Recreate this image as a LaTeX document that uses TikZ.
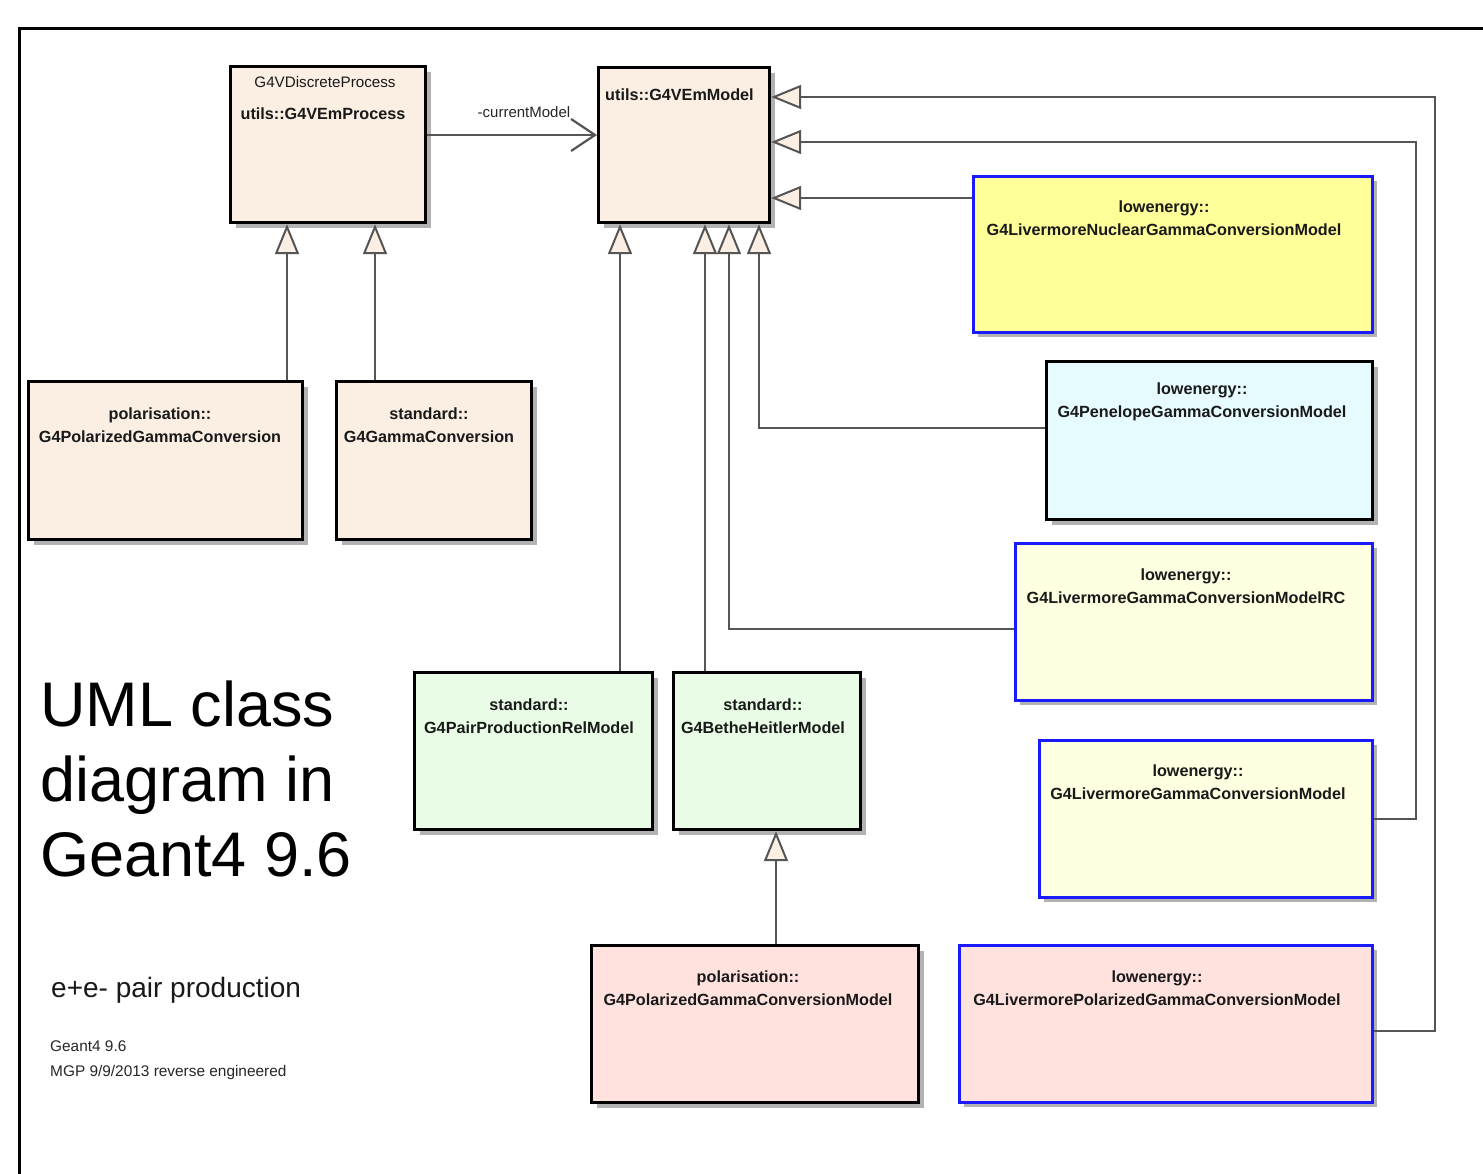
\documentclass[tikz,border=0pt]{standalone}
\usepackage{fontspec}
\setmainfont{Liberation Sans}
\usetikzlibrary{arrows.meta,shadows,calc}
\definecolor{cream}{HTML}{FAEFE2}
\definecolor{mint}{HTML}{E8FCE6}
\definecolor{rose}{HTML}{FFE2DE}
\definecolor{lemon}{HTML}{FFFF99}
\definecolor{ivory}{HTML}{FFFFE2}
\definecolor{aqua}{HTML}{E6FBFF}
\definecolor{umlblue}{HTML}{1A1AFF}
\definecolor{linegray}{HTML}{555555}
\tikzset{
  box/.style={draw=black, line width=3.2pt, fill=cream, inner sep=0pt, anchor=north west,
    general shadow={fill=black!30, shadow xshift=5pt, shadow yshift=-5pt}},
  bluebox/.style={box, draw=umlblue, line width=2.8pt},
  lbl/.style={font=\bfseries\fontsize{16.2}{23}\selectfont, align=center, inner sep=0pt, text=black!90},
  inh/.style={draw=linegray, line width=2.6pt,
    -{Triangle[length=30pt,width=24pt,fill=cream,line width=2pt]}},
  assoc/.style={draw=linegray, line width=2.6pt,
    -{Straight Barb[length=24pt,width=32pt,line width=2.2pt]}},
}
\begin{document}
\begin{tikzpicture}[x=1pt,y=-1pt]
\useasboundingbox (0,0) rectangle (1483,1174);
\fill[white] (0,0) rectangle (1483,1174);
% frame
\coordinate (fbl) at (19,1174);
\coordinate (ftl) at (19,29);
\coordinate (ftr) at (1483,29);
\draw[line width=3pt] (fbl) -- (ftl) -- (ftr);

% boxes
\node[box, minimum width=195pt, minimum height=156pt] (proc) at (229,65) {};
\node[box, minimum width=171pt, minimum height=155pt] (model) at (597,66) {};
\node[box, minimum width=274pt, minimum height=158pt] (pol) at (27,380) {};
\node[box, minimum width=195pt, minimum height=158pt] (gc) at (335,380) {};
\node[box, fill=mint, minimum width=238pt, minimum height=157pt] (pprel) at (413,671) {};
\node[box, fill=mint, minimum width=187pt, minimum height=157pt] (bh) at (672,671) {};
\node[box, fill=rose, minimum width=327pt, minimum height=157pt] (polmodel) at (590,944) {};
\node[bluebox, fill=lemon, minimum width=399pt, minimum height=156pt] (nuc) at (972,175) {};
\node[box, fill=aqua, minimum width=326pt, minimum height=158pt] (pen) at (1045,360) {};
\node[bluebox, fill=ivory, minimum width=357pt, minimum height=157pt] (rc) at (1014,542) {};
\node[bluebox, fill=ivory, minimum width=333pt, minimum height=157pt] (liv) at (1038,739) {};
\node[bluebox, fill=rose, minimum width=413pt, minimum height=157pt] (livpol) at (958,944) {};

% texts
\node[lbl, font=\fontsize{15.2}{20}\selectfont] (proct1) at (325,82) {G4VDiscreteProcess};
\node[lbl] (proct2) at (323,114) {utils::G4VEmProcess};
\node[lbl, anchor=west] (modelt) at (605,95) {utils::G4VEmModel};
\node[lbl] (polt) at (160,425) {polarisation::\\G4PolarizedGammaConversion};
\node[lbl] (gct) at (429,425) {standard::\\G4GammaConversion};
\node[lbl] (pprelt) at (529,716) {standard::\\G4PairProductionRelModel};
\node[lbl] (bht) at (763,716) {standard::\\G4BetheHeitlerModel};
\node[lbl] (polmodelt) at (748,988) {polarisation::\\G4PolarizedGammaConversionModel};
\node[lbl] (nuct) at (1164,218) {lowenergy::\\G4LivermoreNuclearGammaConversionModel};
\node[lbl] (pent) at (1202,402) {lowenergy::\\G4PenelopeGammaConversionModel};
\node[lbl] (rct) at (1186,586) {lowenergy::\\G4LivermoreGammaConversionModelRC};
\node[lbl] (livt) at (1198,782) {lowenergy::\\G4LivermoreGammaConversionModel};
\node[lbl] (livpolt) at (1157,988) {lowenergy::\\G4LivermorePolarizedGammaConversionModel};

\node[anchor=west, align=left, inner sep=0pt, font=\fontsize{63}{75}\selectfont] (title) at (40,779)
  {UML class\\diagram in\\Geant4 9.6};
\node[anchor=west, inner sep=0pt, font=\fontsize{28}{30}\selectfont, text=black!90] (sub) at (51,990) {e+e- pair production};
\node[anchor=west, align=left, inner sep=0pt, font=\fontsize{15.4}{25}\selectfont, text=black!85] (note) at (50,1060)
  {Geant4 9.6\\MGP 9/9/2013 reverse engineered};

% helper coordinates
\coordinate (x287) at (287,0);
\coordinate (x375) at (375,0);
\coordinate (x620) at (620,0);
\coordinate (x705) at (705,0);
\coordinate (x729) at (729,0);
\coordinate (x759) at (759,0);
\coordinate (x776) at (776,0);
\coordinate (y135) at (0,135);
\coordinate (y198) at (0,198);
\coordinate (y428) at (0,428);
\coordinate (y629) at (0,629);
\coordinate (y819) at (0,819);
\coordinate (y1031) at (0,1031);
\coordinate (k1) at (1416,142);
\coordinate (k2) at (1435,97);

% connectors
\draw[assoc] (proc.east |- y135) -- (model.west |- y135);
\node[inner sep=0pt, font=\fontsize{15}{16}\selectfont, text=black!85] (cm) at (524,112) {-currentModel};

\draw[inh] (pol.north -| x287) -- (proc.south -| x287);
\draw[inh] (gc.north -| x375) -- (proc.south -| x375);
\draw[inh] (pprel.north -| x620) -- (model.south -| x620);
\draw[inh] (bh.north -| x705) -- (model.south -| x705);
\draw[inh] (rc.west |- y629) -| (model.south -| x729);
\draw[inh] (pen.west |- y428) -| (model.south -| x759);
\draw[inh] (nuc.west |- y198) -- (model.east |- y198);
\draw[inh] (liv.east |- y819) -| (k1) -- (model.east |- k1);
\draw[inh] (livpol.east |- y1031) -| (k2) -- (model.east |- k2);
\draw[inh] (polmodel.north -| x776) -- (bh.south -| x776);
\end{tikzpicture}
\end{document}
